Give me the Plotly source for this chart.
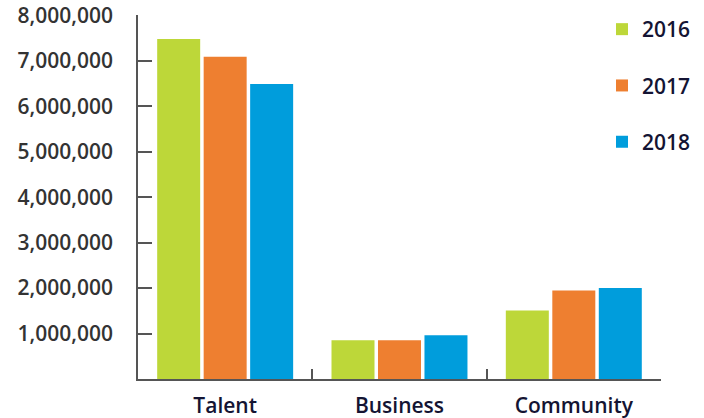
import plotly.graph_objects as go

categories = ["Talent", "Business", "Community"]
years = ["2016", "2017", "2018"]
values_2016 = [7480000, 850000, 1510000]
values_2017 = [7090000, 850000, 1950000]
values_2018 = [6490000, 960000, 2000000]
colors = ["#BDD739", "#EE7F30", "#009DDC"]

series = [values_2016, values_2017, values_2018]

fig = go.Figure()
for yr, vals, col in zip(years, series, colors):
    fig.add_trace(go.Bar(x=categories, y=vals, name=yr, marker_color=col,
                         marker_line_width=0, legendgroup=yr, hoverinfo="skip"))

font_family = "Open Sans"
fig.update_layout(
    width=704, height=418,
    margin=dict(l=138, r=10, t=5, b=39, autoexpand=False),
    plot_bgcolor="white", paper_bgcolor="white",
    barmode="group", bargap=0.2, bargroupgap=0.075,
    showlegend=True,
    legend=dict(x=0.8345, y=0.9893, xanchor="left", yanchor="top",
                font=dict(family=font_family, size=21, color="#141433", weight=600),
                tracegroupgap=26, itemwidth=30, bgcolor="rgba(0,0,0,0)"),
    xaxis=dict(domain=[0, 0.9406], showline=True, linecolor="#555555", linewidth=1.5,
               ticks="inside", tickson="boundaries", ticklen=10, tickcolor="#555555",
               tickwidth=1.5, ticklabelstandoff=7, automargin=False,
               tickfont=dict(family=font_family, size=21, color="#141433", weight=600),
               showgrid=False),
    yaxis=dict(domain=[0, 0.972], range=[0, 8000000],
               tickvals=[1000000, 2000000, 3000000, 4000000, 5000000, 6000000, 7000000, 8000000],
               tickformat=",d", showline=True, linecolor="#555555", linewidth=1.5,
               ticks="inside", ticklen=14, tickcolor="#555555", tickwidth=1.5,
               ticklabelstandoff=19, showgrid=False, zeroline=False, automargin=False,
               tickfont=dict(family=font_family, size=21, color="#333333", weight=600)),
)

fig.write_html("out.html", config={"displayModeBar": False},
               post_script="document.body.style.margin='0';document.body.style.padding='0';")
